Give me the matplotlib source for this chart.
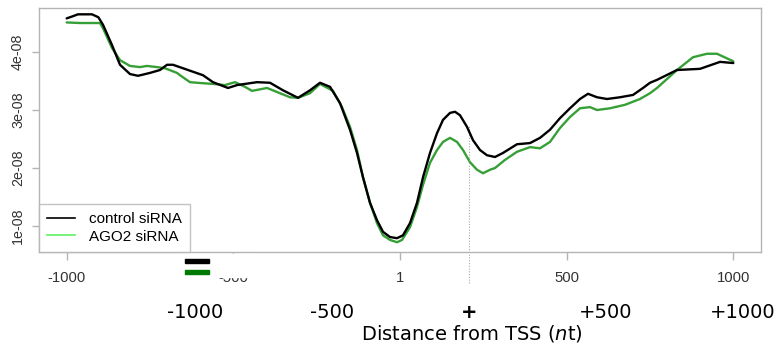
import matplotlib
matplotlib.use('Agg')
import matplotlib.pyplot as plt
from matplotlib.lines import Line2D
from matplotlib.patches import Rectangle
import numpy as np

# distance from TSS (nt) and signal (units of 1e-8)
control_x = [-1000, -980, -966, -924, -905, -891, -864, -840, -810, -786, -750, -720,
             -699, -681, -651, -621, -591, -561, -516, -489, -429, -390, -351, -306,
             -270, -240, -210, -180, -150, -129, -111, -90, -69, -51, -30, -9, 9,
             30, 51, 69, 90, 111, 129, 150, 165, 180, 201, 219, 240, 261, 285, 309,
             351, 390, 420, 450, 480, 510, 540, 564, 591, 621, 660, 699, 729, 750,
             771, 831, 900, 960, 1000]
control_y = [4.58, 4.62, 4.65, 4.65, 4.60, 4.47, 4.12, 3.78, 3.62, 3.59, 3.64, 3.69,
             3.78, 3.78, 3.72, 3.66, 3.60, 3.48, 3.38, 3.43, 3.48, 3.47, 3.34, 3.21,
             3.34, 3.47, 3.40, 3.12, 2.66, 2.26, 1.84, 1.40, 1.10, 0.90, 0.81, 0.79,
             0.84, 1.05, 1.40, 1.84, 2.26, 2.60, 2.83, 2.95, 2.97, 2.91, 2.71, 2.48,
             2.31, 2.22, 2.19, 2.26, 2.41, 2.43, 2.52, 2.66, 2.86, 3.03, 3.19, 3.28,
             3.22, 3.19, 3.22, 3.26, 3.38, 3.47, 3.52, 3.69, 3.71, 3.83, 3.81]

ago2_x = [-1000, -960, -900, -891, -864, -840, -810, -780, -759, -729, -705, -669,
          -660, -630, -609, -561, -525, -495, -465, -444, -399, -360, -330, -306,
          -270, -240, -201, -174, -150, -129, -111, -90, -69, -51, -30, -9, 6, 30,
          51, 69, 90, 111, 129, 150, 171, 189, 210, 231, 249, 270, 285, 315, 351,
          390, 420, 450, 480, 510, 540, 570, 591, 630, 675, 720, 750, 771, 831,
          879, 921, 951, 1000]
ago2_y = [4.51, 4.50, 4.50, 4.41, 4.07, 3.86, 3.76, 3.74, 3.76, 3.74, 3.72, 3.64,
          3.60, 3.48, 3.47, 3.45, 3.43, 3.48, 3.40, 3.33, 3.38, 3.29, 3.22, 3.21,
          3.29, 3.45, 3.33, 3.05, 2.71, 2.31, 1.84, 1.40, 1.05, 0.84, 0.76, 0.72,
          0.76, 0.98, 1.33, 1.71, 2.09, 2.31, 2.45, 2.52, 2.45, 2.31, 2.10, 1.97,
          1.91, 1.97, 2.00, 2.14, 2.28, 2.36, 2.34, 2.45, 2.69, 2.88, 3.03, 3.05,
          3.00, 3.03, 3.09, 3.19, 3.29, 3.38, 3.69, 3.91, 3.97, 3.97, 3.84]

x_ticks = [-1000, -500, 1, 500, 1000]
y_ticks = [1, 2, 3, 4]
y_tick_labels = ['1e-08', '2e-08', '3e-08', '4e-08']
legend_labels = ['control siRNA', 'AGO2 siRNA']

# second label row, centred on the marked position
tss_mark = 207
row2_step = 411
row2_offsets = [-2, -1, 0, 1, 2]
row2_labels = ['-1000', '-500', '+', '+500', '+1000']

W, H = 779, 345
fig = plt.figure(figsize=(W / 100, H / 100), dpi=100)
ax = fig.add_axes([39 / W, 93 / H, 722 / W, 244 / H])

grey = '#b4b4b4'
green_line = '#36a036'
ax.plot(control_x, np.array(control_y) * 1e-8, color='black', lw=1.7, zorder=3,
        solid_joinstyle='round', solid_capstyle='round')
ax.plot(ago2_x, np.array(ago2_y) * 1e-8, color=green_line, lw=1.7, zorder=2,
        solid_joinstyle='round', solid_capstyle='round')

ax.set_xlim(-1083, 1083)
ax.set_ylim(0.552e-8, 4.759e-8)
for s in ax.spines.values():
    s.set_color(grey)
    s.set_linewidth(1.0)

ax.set_xticks(x_ticks)
ax.set_xticklabels([str(t) for t in x_ticks], fontsize=10.7, family='Liberation Sans',
                   color='#333333')
ax.set_yticks(np.array(y_ticks) * 1e-8)
ax.set_yticklabels(y_tick_labels, fontsize=10.3, family='Liberation Sans',
                   color='#333333', rotation=90, va='center')
ax.tick_params(axis='x', length=6, width=1, color=grey, pad=7.5)
ax.tick_params(axis='y', length=5, width=1, color=grey, pad=5)

handles = [Line2D([], [], color='black', lw=1.2),
           Line2D([], [], color='#5ef05e', lw=1.2)]
leg = ax.legend(handles, legend_labels, loc='lower left', bbox_to_anchor=(0, 0),
                borderaxespad=0, fancybox=False, frameon=True,
                prop={'family': 'Liberation Sans', 'size': 11},
                handlelength=1.8, handletextpad=0.9, borderpad=0.55,
                labelspacing=0.22)
leg.get_frame().set_edgecolor(grey)
leg.get_frame().set_linewidth(1.0)

# dotted marker line through the second peak
ax.axvline(tss_mark, ymin=-0.127, ymax=0.52, clip_on=False, ls=(0, (1, 1.5)),
           color='#aaaaaa', lw=0.8)

# white patch hiding part of the -500 label, with the two colour keys on top
fig.add_artist(Rectangle((180 / W, 1 - 277 / H), 75 / W, 23 / H,
                         transform=fig.transFigure, color='white', zorder=10))
fig.add_artist(Rectangle((185 / W, 1 - 262.5 / H), 24 / W, 3.5 / H,
                         transform=fig.transFigure, color='black', zorder=11))
fig.add_artist(Rectangle((185 / W, 1 - 273.5 / H), 24 / W, 3.5 / H,
                         transform=fig.transFigure, color='#007a00', zorder=11))

# second row of labels
for off, lab in zip(row2_offsets, row2_labels):
    xpos = tss_mark + off * row2_step
    ax.annotate(lab, xy=(xpos, 0), xycoords=('data', 'axes fraction'),
                xytext=(0, -(312 - 252) * 0.72), textcoords='offset points',
                ha='center', va='center', fontsize=14, family='DejaVu Sans',
                fontweight='bold' if lab == '+' else 'normal',
                annotation_clip=False)

fig.text(472 / W, 1 - 333 / H, r'Distance from TSS ($\it{n}$t)', ha='center',
         va='center', fontsize=14, family='DejaVu Sans')

fig.savefig('out.png', dpi=100)
